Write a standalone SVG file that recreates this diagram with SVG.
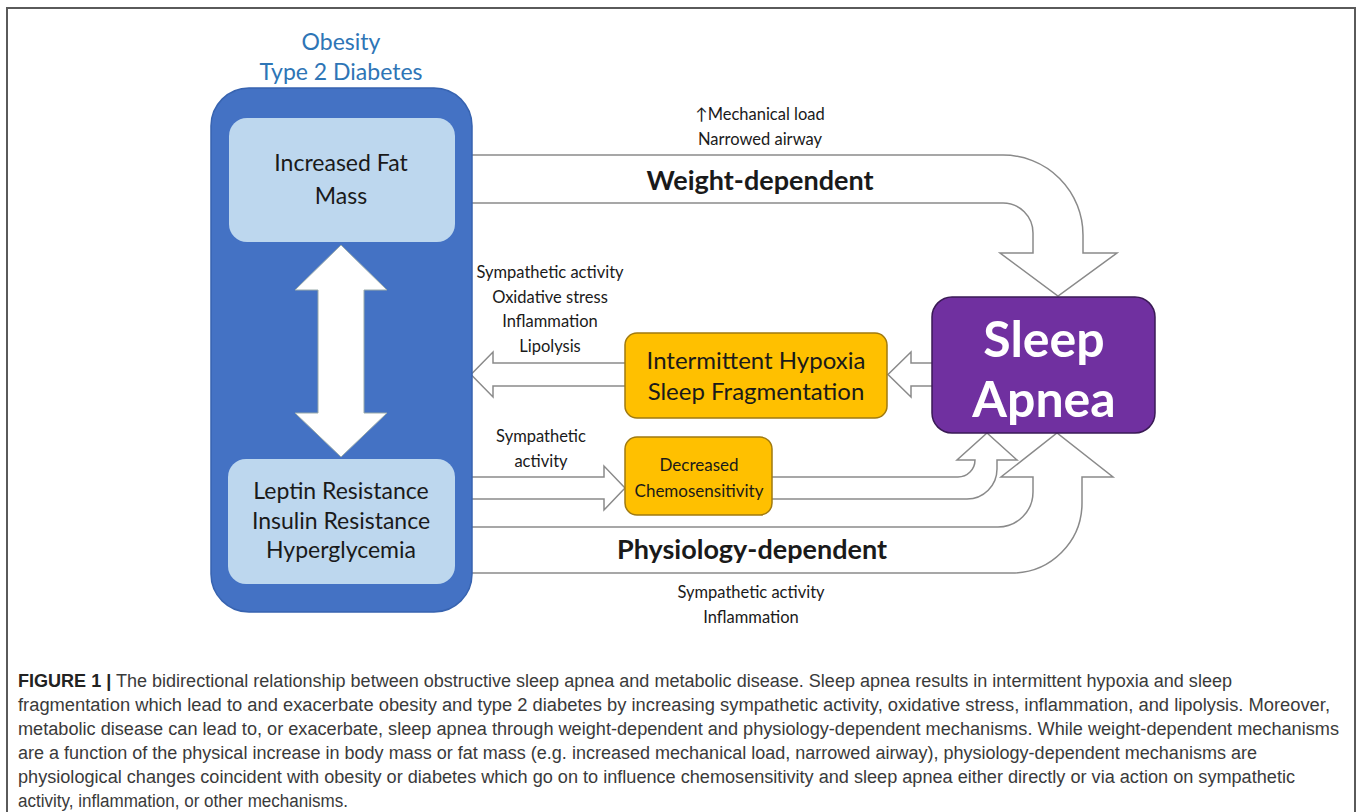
<svg xmlns="http://www.w3.org/2000/svg" width="1357" height="812" viewBox="0 0 1357 812">
<style>
.lbl{font-family:Lato,"Open Sans","Liberation Sans",sans-serif;fill:#1a1a1a;text-anchor:middle}
.sm{font-size:16.5px}
.bd{font-weight:bold;font-size:27px}
.conn{fill:#fff;stroke:#8a8a8a;stroke-width:1.5}
.cap{font-family:"Liberation Sans",Arial,sans-serif;font-size:18px;fill:#3a3a3a}
</style>
<rect x="0" y="0" width="1357" height="812" fill="#fff"/>
<rect x="7" y="8" width="1348" height="830" fill="none" stroke="#5a5a5a" stroke-width="2"/>

<g id="connectors">
<path class="conn" d="M472,155 H1003 A80,80 0 0 1 1083,235 V253 H1117 L1058,296 L1000,253 H1033 V233 A30,30 0 0 0 1003,203 H472"/>
<path class="conn" d="M625,363 H493 V352 L471,374.5 L493,397 V386 H625"/>
<path class="conn" d="M932,363 H911 V352 L888,374.5 L911,397 V386 H932"/>
<path class="conn" d="M472,477 H604 V466 L625,488 L604,510 V499 H472"/>
<path class="conn" d="M771,477 H958 A17,17 0 0 0 975,460 H957 L987,433 L1017,460 H997 V469 A30,30 0 0 1 967,499 H771"/>
<path class="conn" d="M472,527 H998 A35,35 0 0 0 1033,492 V477 H1001 L1057,433 L1113,477 H1082 V503 A70,70 0 0 1 1012,573 H472"/>
</g>

<g id="obesity-diabetes">
<text class="lbl" x="341" y="50" style="fill:#2E75B6;font-size:23px">Obesity</text>
<text class="lbl" x="341" y="80" style="fill:#2E75B6;font-size:23px">Type 2 Diabetes</text>
<rect x="211" y="88" width="261" height="524" rx="38" fill="#4472C4" stroke="#3763b0" stroke-width="1.5"/>
</g>

<g id="fat-mass">
<rect x="229" y="118" width="226" height="124" rx="18" fill="#BDD7EE"/>
<text class="lbl" x="341" y="171" style="font-size:23px">Increased Fat</text>
<text class="lbl" x="341" y="204" style="font-size:23px">Mass</text>
</g>

<g id="bidirectional-arrow">
<polygon points="341,245 387,290 364,290 364,413 387,413 341,457 295,413 318,413 318,290 295,290" fill="#fff" stroke="#9aa" stroke-width="1"/>
</g>

<g id="resistance">
<rect x="228" y="459" width="227" height="125" rx="18" fill="#BDD7EE"/>
<text class="lbl" x="341" y="499" style="font-size:23px">Leptin Resistance</text>
<text class="lbl" x="341" y="529" style="font-size:23px">Insulin Resistance</text>
<text class="lbl" x="341" y="558" style="font-size:23px">Hyperglycemia</text>
</g>

<g id="weight-labels">
<text class="lbl sm" x="760" y="120">↑Mechanical load</text>
<text class="lbl sm" x="760" y="145">Narrowed airway</text>
<text class="lbl bd" x="760" y="190">Weight-dependent</text>
</g>

<g id="ih-labels">
<text class="lbl sm" x="550" y="278">Sympathetic activity</text>
<text class="lbl sm" x="550" y="303">Oxidative stress</text>
<text class="lbl sm" x="550" y="327">Inflammation</text>
<text class="lbl sm" x="550" y="352">Lipolysis</text>
</g>

<g id="intermittent-hypoxia">
<rect x="625" y="333" width="262" height="85" rx="12" fill="#FFC000" stroke="#A07A10" stroke-width="1.5"/>
<text class="lbl" x="756" y="369" style="font-size:24px">Intermittent Hypoxia</text>
<text class="lbl" x="756" y="400" style="font-size:24px">Sleep Fragmentation</text>
</g>

<g id="sleep-apnea">
<rect x="932" y="297" width="223" height="136" rx="20" fill="#7030A0" stroke="#3a1a55" stroke-width="1.5"/>
<text class="lbl" x="1044" y="357" style="fill:#fff;font-weight:bold;font-size:50px">Sleep</text>
<text class="lbl" x="1044" y="417" style="fill:#fff;font-weight:bold;font-size:50px">Apnea</text>
</g>

<g id="symp-label">
<text class="lbl sm" x="541" y="442">Sympathetic</text>
<text class="lbl sm" x="541" y="467">activity</text>
</g>

<g id="chemosensitivity">
<rect x="625" y="437" width="147" height="78" rx="12" fill="#FFC000" stroke="#A07A10" stroke-width="1.5"/>
<text class="lbl" x="699" y="471" style="font-size:17px">Decreased</text>
<text class="lbl" x="699" y="497" style="font-size:17px">Chemosensitivity</text>
</g>

<g id="physio-labels">
<text class="lbl bd" x="752" y="559">Physiology-dependent</text>
<text class="lbl sm" x="751" y="598">Sympathetic activity</text>
<text class="lbl sm" x="751" y="623">Inflammation</text>
</g>

<g id="caption">
<text class="cap" x="18" y="687" textLength="1214" lengthAdjust="spacingAndGlyphs"><tspan font-weight="bold" fill="#222">FIGURE 1 |</tspan> The bidirectional relationship between obstructive sleep apnea and metabolic disease. Sleep apnea results in intermittent hypoxia and sleep</text>
<text class="cap" x="18" y="711" textLength="1312" lengthAdjust="spacingAndGlyphs">fragmentation which lead to and exacerbate obesity and type 2 diabetes by increasing sympathetic activity, oxidative stress, inflammation, and lipolysis. Moreover,</text>
<text class="cap" x="18" y="735" textLength="1321" lengthAdjust="spacingAndGlyphs">metabolic disease can lead to, or exacerbate, sleep apnea through weight-dependent and physiology-dependent mechanisms. While weight-dependent mechanisms</text>
<text class="cap" x="18" y="759" textLength="1239" lengthAdjust="spacingAndGlyphs">are a function of the physical increase in body mass or fat mass (e.g. increased mechanical load, narrowed airway), physiology-dependent mechanisms are</text>
<text class="cap" x="18" y="783" textLength="1277" lengthAdjust="spacingAndGlyphs">physiological changes coincident with obesity or diabetes which go on to influence chemosensitivity and sleep apnea either directly or via action on sympathetic</text>
<text class="cap" x="18" y="807" textLength="330" lengthAdjust="spacingAndGlyphs">activity, inflammation, or other mechanisms.</text>
</g>
</svg>
